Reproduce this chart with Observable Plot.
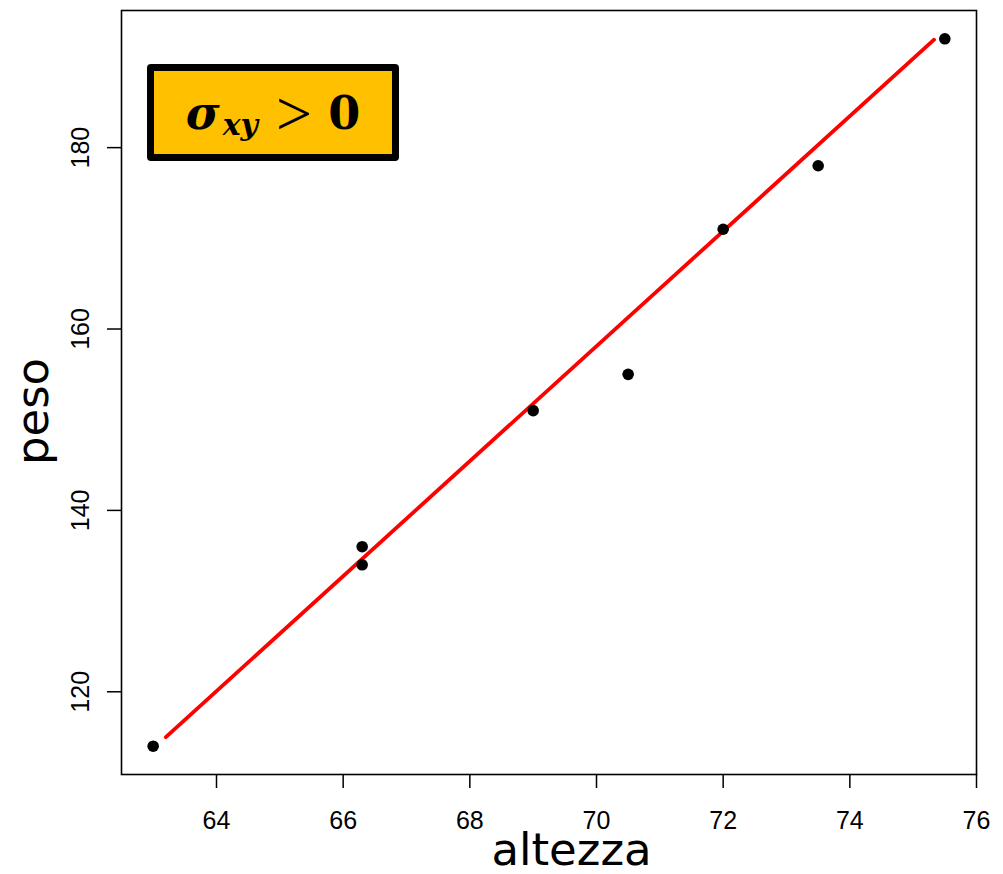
<!DOCTYPE html>
<html>
<head>
<meta charset="utf-8">
<script src="https://cdn.jsdelivr.net/npm/d3@7"></script>
<script src="https://cdn.jsdelivr.net/npm/@observablehq/plot@0.6"></script>
<style>
  html, body { margin: 0; padding: 0; background: white; }
  #wrap { position: relative; width: 1003px; height: 874px; }
  #badge {
    position: absolute; left: 147px; top: 64px; width: 238px; height: 83px;
    border: 7px solid black; border-radius: 4px; background: #FFC000;
    font-family: "DejaVu Serif", "Liberation Serif", serif; color: black;
    display: flex; align-items: center; justify-content: center; white-space: nowrap;
    line-height: 1;
  }
  #badge .sig { font-weight: bold; font-style: italic; font-size: 46px; }
  #badge .sub { font-weight: bold; font-style: italic; font-size: 30px; position: relative; top: 12px; margin-left: 3px; }
  #badge .gt { font-family: "Liberation Serif", serif; font-weight: normal; font-size: 64px; margin: 0 16px 0 18px; position: relative; top: 1px; }
  #badge .zero { font-weight: bold; font-size: 46px; }
</style>
</head>
<body>
<div id="wrap"></div>
<script>
const altezza = [63, 66.3, 66.3, 69, 70.5, 72, 73.5, 75.5];
const peso    = [114, 136, 134, 151, 155, 171, 178, 192];
const lineX = [63.2, 75.33];
const lineY = [115, 191.9];
const xTicks = [64, 66, 68, 70, 72, 74, 76];
const yTicks = [120, 140, 160, 180];
const xLabel = "altezza";
const yLabel = "peso";

const pts = altezza.map((a, i) => ({x: a, y: peso[i]}));
const fit = lineX.map((a, i) => ({x: a, y: lineY[i]}));

const chart = Plot.plot({
  width: 1003,
  height: 874,
  marginLeft: 121,
  marginRight: 27,
  marginTop: 10,
  marginBottom: 100,
  style: {fontFamily: "Liberation Sans, Arial, sans-serif", background: "white", color: "black"},
  x: {domain: [62.5, 76]},
  y: {domain: [110.88, 195.12]},
  marks: [
    Plot.frame({stroke: "black", strokeWidth: 1.6}),
    Plot.axisX({ticks: xTicks, tickSize: 14, tickPadding: 23, fontSize: 25, label: null,
                tickFormat: d => String(d), strokeWidth: 1.5}),
    Plot.axisY({ticks: yTicks, tickSize: 14, tickFormat: () => "", label: null, strokeWidth: 1.5}),
    Plot.text(yTicks, {y: d => d, text: d => String(d), frameAnchor: "left", dx: -33,
                rotate: -90, textAnchor: "middle", lineAnchor: "bottom", fontSize: 25}),
    Plot.line(fit, {x: "x", y: "y", stroke: "#FF0000", strokeWidth: 3.8}),
    Plot.dot(pts, {x: "x", y: "y", r: 5.8, fill: "black", stroke: "none"}),
    Plot.text([xLabel], {text: d => d, frameAnchor: "bottom", dx: 22.5, dy: 90,
                lineAnchor: "bottom", textAnchor: "middle", fontSize: 45,
                fontFamily: "DejaVu Sans"}),
    Plot.text([yLabel], {text: d => d, frameAnchor: "left", dx: -74, dy: 19, rotate: -90,
                lineAnchor: "bottom", textAnchor: "middle", fontSize: 45,
                fontFamily: "DejaVu Sans"})
  ]
});

const wrap = document.getElementById("wrap");
wrap.appendChild(chart);
const badge = document.createElement("div");
badge.id = "badge";
badge.innerHTML = '<span class="sig">σ</span><span class="sub">xy</span><span class="gt">&gt;</span><span class="zero">0</span>';
wrap.appendChild(badge);
</script>
</body>
</html>
